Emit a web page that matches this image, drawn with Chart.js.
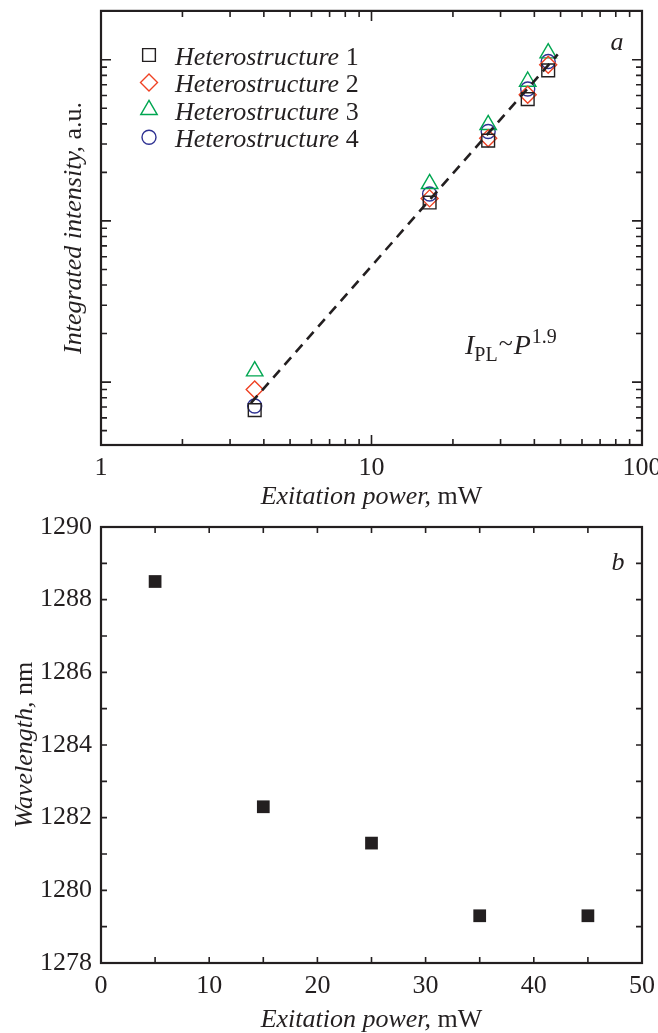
<!DOCTYPE html>
<html>
<head>
<meta charset="utf-8">
<script src="https://cdn.jsdelivr.net/npm/chart.js@4.4.0/dist/chart.umd.min.js"></script>
<style>
  html, body { margin: 0; padding: 0; background: #fff; }
  body { width: 658px; height: 1033px; position: relative; overflow: hidden; }
  canvas { position: absolute; left: 0; }
  #chartA { top: 0; }
  #chartB { top: 512px; }
</style>
</head>
<body>
<canvas id="chartA" width="658" height="512"></canvas>
<canvas id="chartB" width="658" height="521"></canvas>
<script>
// Panel a: integrated intensity vs excitation power (log-log)
const powerLog = [3.7, 16.4, 27, 37.8, 45];
const intensity1 = [0.67, 13.0, 31.5, 57, 86];
const intensity2 = [0.9, 13.8, 32.6, 60.6, 93];
const intensity3 = [1.17, 17.0, 39.5, 73.3, 110];
const intensity4 = [0.71, 14.7, 35.9, 65.8, 97.5];
const fitPower = [3.58, 48.8];
const fitIntensity = [0.74, 108];
const seriesNames = ['1', '2', '3', '4'];
const logXLabels = [1, 10, 100];
const logMajor = [1, 10, 100];
const logXMinor = [2, 3, 4, 5, 6, 7, 8, 9, 20, 30, 40, 50, 60, 70, 80, 90];
const logYMinor = [0.5, 0.6, 0.7, 0.8, 0.9, 2, 3, 4, 5, 6, 7, 8, 9, 20, 30, 40, 50, 60, 70, 80, 90];

// Panel b: peak wavelength vs excitation power
const powerLin = [5, 15, 25, 35, 45];
const wavelength = [1288.5, 1282.3, 1281.3, 1279.3, 1279.3];
const linXMarks = [5, 10, 15, 20, 25, 30, 35, 40, 45];
const linYMarks = [1279, 1280, 1281, 1282, 1283, 1284, 1285, 1286, 1287, 1288, 1289];

const INK = '#231f20';
const SERIF = "'Liberation Serif', 'Times New Roman', serif";
const styles = [
  { pointStyle: 'rect', radius: 9, color: '#231f20' },
  { pointStyle: 'rectRot', radius: 8.5, color: '#ef4123' },
  { pointStyle: 'triangle', radius: 9.5, color: '#00a651' },
  { pointStyle: 'circle', radius: 7, color: '#2e3192' }
];

function toPoints(xs, ys) {
  return xs.map((x, i) => ({ x: x, y: ys[i] }));
}

// draws a run of text pieces with their own style (italic / upright / sub / sup)
function drawRuns(ctx, runs, x, y, align) {
  let total = 0;
  runs.forEach(r => {
    ctx.font = (r.italic ? 'italic ' : '') + (r.size || 26) + 'px ' + SERIF;
    r.w = ctx.measureText(r.text).width + (r.gap || 0);
    total += r.w;
  });
  let cx = align === 'center' ? x - total / 2 : x;
  runs.forEach(r => {
    ctx.font = (r.italic ? 'italic ' : '') + (r.size || 26) + 'px ' + SERIF;
    ctx.fillText(r.text, cx + (r.gap || 0) / 2, y + (r.dy || 0));
    cx += r.w;
  });
}

function drawMarker(ctx, st, x, y) {
  const r = st.radius;
  ctx.beginPath();
  if (st.pointStyle === 'rect') {
    const s = r * Math.SQRT1_2;
    ctx.rect(x - s, y - s, 2 * s, 2 * s);
  } else if (st.pointStyle === 'rectRot') {
    ctx.moveTo(x, y - r); ctx.lineTo(x + r, y); ctx.lineTo(x, y + r); ctx.lineTo(x - r, y); ctx.closePath();
  } else if (st.pointStyle === 'triangle') {
    ctx.moveTo(x, y - r);
    ctx.lineTo(x + Math.sin(2 * Math.PI / 3) * r, y - Math.cos(2 * Math.PI / 3) * r);
    ctx.lineTo(x + Math.sin(4 * Math.PI / 3) * r, y - Math.cos(4 * Math.PI / 3) * r);
    ctx.closePath();
  } else {
    ctx.arc(x, y, r, 0, Math.PI * 2);
  }
  ctx.strokeStyle = st.color;
  ctx.lineWidth = 1.4;
  ctx.stroke();
}

// frame with inward ticks on all four sides + free text
function framePlugin(cfg) {
  return {
    id: 'frame',
    afterDraw(chart) {
      const ctx = chart.ctx;
      const a = chart.chartArea;
      const sx = chart.scales.x, sy = chart.scales.y;
      ctx.save();
      ctx.strokeStyle = INK;
      ctx.lineWidth = 1.6;
      ctx.beginPath();
      cfg.xTicks.forEach(t => {
        const px = sx.getPixelForValue(t[0]);
        ctx.moveTo(px, a.bottom); ctx.lineTo(px, a.bottom - t[1]);
        ctx.moveTo(px, a.top); ctx.lineTo(px, a.top + t[1]);
      });
      cfg.yTicks.forEach(t => {
        const py = sy.getPixelForValue(t[0]);
        ctx.moveTo(a.left, py); ctx.lineTo(a.left + t[1], py);
        ctx.moveTo(a.right, py); ctx.lineTo(a.right - t[1], py);
      });
      ctx.stroke();
      ctx.lineWidth = 2.2;
      ctx.strokeRect(a.left, a.top, a.right - a.left, a.bottom - a.top);
      ctx.fillStyle = INK;
      ctx.textBaseline = 'alphabetic';
      cfg.texts(ctx, chart);
      ctx.restore();
    }
  };
}

const tickFont = { family: SERIF, size: 26 };

// ---------- Panel a ----------
const setsA = [intensity1, intensity2, intensity3, intensity4].map((vals, i) => ({
  label: 'Heterostructure ' + seriesNames[i],
  data: toPoints(powerLog, vals),
  pointStyle: styles[i].pointStyle,
  pointRadius: styles[i].radius,
  pointBorderWidth: 1.4,
  pointBorderColor: styles[i].color,
  pointBackgroundColor: 'rgba(0,0,0,0)',
  order: 1
}));
setsA.push({
  label: 'fit',
  type: 'line',
  data: toPoints(fitPower, fitIntensity),
  borderColor: INK,
  borderWidth: 2.6,
  borderDash: [10, 7],
  pointRadius: 0,
  fill: false,
  order: 0
});

new Chart(document.getElementById('chartA'), {
  type: 'scatter',
  data: { datasets: setsA },
  options: {
    responsive: false,
    animation: false,
    layout: { padding: { left: 60, top: 10, right: 16, bottom: 0 } },
    plugins: { legend: { display: false }, tooltip: { enabled: false } },
    scales: {
      x: {
        type: 'logarithmic', min: 1, max: 100,
        grid: { display: false, drawTicks: false },
        border: { display: false },
        ticks: { font: tickFont, color: INK, padding: 8, maxRotation: 0, autoSkip: false,
                 callback: v => String(v) },
        afterBuildTicks: s => { s.ticks = logXLabels.map(v => ({ value: v })); },
        afterFit: s => { s.height = 67; s.paddingLeft = 0; s.paddingRight = 0; }
      },
      y: {
        type: 'logarithmic', min: 0.407, max: 201,
        grid: { display: false, drawTicks: false },
        border: { display: false },
        ticks: { display: false },
        afterFit: s => { s.width = 41; s.paddingTop = 0; s.paddingBottom = 0; }
      }
    }
  },
  plugins: [framePlugin({
    xTicks: logMajor.map(v => [v, 10]).concat(logXMinor.map(v => [v, 6])),
    yTicks: logMajor.map(v => [v, 10]).concat(logYMinor.map(v => [v, 6])),
    texts(ctx, chart) {
      const a = chart.chartArea;
      // legend
      styles.forEach((st, i) => {
        const cy = 55 + i * 27.4;
        drawMarker(ctx, st, 149, cy);
        drawRuns(ctx, [{ text: 'Heterostructure', italic: true }, { text: ' ' + seriesNames[i] }], 175, cy + 10, 'left');
      });
      drawRuns(ctx, [{ text: 'a', italic: true }], 617, 50, 'center');
      // power law note
      drawRuns(ctx, [
        { text: 'I', italic: true, size: 28 },
        { text: 'PL', size: 20, dy: 7 },
        { text: '~', size: 26, dy: -3, gap: 2 },
        { text: 'P', italic: true, size: 28 },
        { text: '1.9', size: 20, dy: -11, gap: 2 }
      ], 465, 354, 'left');
      // axis titles
      drawRuns(ctx, [{ text: 'Exitation power,', italic: true }, { text: ' mW' }], (a.left + a.right) / 2, 504, 'center');
      ctx.save();
      ctx.translate(81, (a.top + a.bottom) / 2);
      ctx.rotate(-Math.PI / 2);
      drawRuns(ctx, [{ text: 'Integrated intensity,', italic: true }, { text: ' a.u.' }], 0, 0, 'center');
      ctx.restore();
    }
  })]
});

// ---------- Panel b ----------
new Chart(document.getElementById('chartB'), {
  type: 'scatter',
  data: {
    datasets: [{
      label: 'Wavelength',
      data: toPoints(powerLin, wavelength),
      pointStyle: 'rect',
      pointRadius: 9,
      pointBorderWidth: 0,
      pointBackgroundColor: INK,
      pointBorderColor: INK
    }]
  },
  options: {
    responsive: false,
    animation: false,
    layout: { padding: { left: 0, top: 15, right: 16, bottom: 0 } },
    plugins: { legend: { display: false }, tooltip: { enabled: false } },
    scales: {
      x: {
        type: 'linear', min: 0, max: 50,
        grid: { display: false, drawTicks: false },
        border: { display: false },
        ticks: { stepSize: 10, font: tickFont, color: INK, padding: 8, maxRotation: 0, autoSkip: false },
        afterFit: s => { s.height = 70; s.paddingLeft = 0; s.paddingRight = 0; }
      },
      y: {
        type: 'linear', min: 1278, max: 1290,
        grid: { display: false, drawTicks: false },
        border: { display: false },
        ticks: { stepSize: 2, font: tickFont, color: INK, padding: 9, autoSkip: false,
                 callback: v => String(v) },
        afterFit: s => { s.width = 101; s.paddingTop = 0; s.paddingBottom = 0; }
      }
    }
  },
  plugins: [framePlugin({
    xTicks: linXMarks.map(v => [v, 6]),
    yTicks: linYMarks.map(v => [v, 6]),
    texts(ctx, chart) {
      const a = chart.chartArea;
      drawRuns(ctx, [{ text: 'b', italic: true }], 618, 570 - 512, 'center');
      drawRuns(ctx, [{ text: 'Exitation power,', italic: true }, { text: ' mW' }], (a.left + a.right) / 2, 1027 - 512, 'center');
      ctx.save();
      ctx.translate(32, (a.top + a.bottom) / 2);
      ctx.rotate(-Math.PI / 2);
      drawRuns(ctx, [{ text: 'Wavelength,', italic: true }, { text: ' nm' }], 0, 0, 'center');
      ctx.restore();
    }
  })]
});
</script>
</body>
</html>
